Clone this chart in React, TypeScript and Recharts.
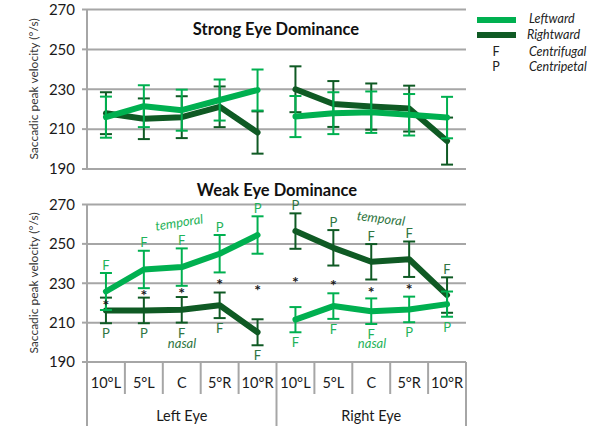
import React from 'react';
import { ComposedChart, Line, XAxis, YAxis, CartesianGrid, ErrorBar, ReferenceDot } from 'recharts';

const categories = ['10°L', '5°L', 'C', '5°R', '10°R'];
const eyes = ['Left Eye', 'Right Eye'];
const yTicks = [190, 210, 230, 250, 270];

// Strong eye dominance (LE = left eye, RE = right eye)
const strongLeftwardLE = [216, 221.5, 219.5, 224.6, 229.6];
const strongLeftwardLEErr = [10.3, 10.5, 10.3, 10.3, 10.3];
const strongRightwardLE = [218, 215.2, 216, 221.2, 208.3];
const strongRightwardLEErr = [10.5, 10.2, 10.5, 10.2, 10.6];
const strongLeftwardRE = [216.3, 218, 218.5, 217.2, 215.8];
const strongLeftwardREErr = [10.3, 10.5, 10.4, 10.4, 10.4];
const strongRightwardRE = [230, 222.6, 221.3, 220.3, 204];
const strongRightwardREErr = [11.5, 11.5, 11.6, 11.5, 11.8];

// Weak eye dominance
const weakLeftwardLE = [225.8, 237, 238.2, 245, 254.5];
const weakLeftwardLEErr = [9.4, 9.5, 9.5, 9.5, 9.5];
const weakRightwardLE = [216.2, 216.2, 216.5, 218.8, 205.1];
const weakRightwardLEErr = [6.5, 6.5, 6.5, 6.5, 6.6];
const weakLeftwardRE = [211.5, 218.4, 215.8, 216.7, 219.4];
const weakLeftwardREErr = [6.4, 6.5, 6.5, 6.5, 6.4];
const weakRightwardRE = [256.5, 248, 240.9, 242.2, 224];
const weakRightwardREErr = [9, 9, 9, 9, 9];

// F = centrifugal, P = centripetal
const weakLettersLeftwardLE = ['F', 'F', 'F', 'P', 'P'];
const weakLettersRightwardLE = ['P', 'P', 'F', 'F', 'F'];
const weakLettersRightwardRE = ['P', 'P', 'F', 'F', 'F'];
const weakLettersLeftwardRE = ['F', 'F', 'F', 'P', 'P'];

// asterisk heights (significance marks)
const weakStarsLE = [220, 225, 226, 230.7, 227.6];
const weakStarsRE = [231.7, 230.2, 226.6, 228.1, null];

const LIGHT = '#00b050';
const DARK = '#0f5a24';
const LIGHT_TXT = '#1fb35a';
const DARK_TXT = '#2f7542';
const GRID = '#a6a6a6';
const FONT = 'Lato, "Open Sans", sans-serif';

const W = 600;
const LEFT = 87;
const RIGHT = 134;
const PLOT_W = W - LEFT - RIGHT;

const keyOf = (e: number, i: number) => `${eyes[e]}|${categories[i]}`;

function buildRows(
  lwLE: number[], lwLEErr: number[], rwLE: number[], rwLEErr: number[],
  lwRE: number[], lwREErr: number[], rwRE: number[], rwREErr: number[]
) {
  const rows: any[] = [];
  eyes.forEach((_, e) => {
    categories.forEach((_, i) => {
      const le = e === 0;
      rows.push({
        key: keyOf(e, i),
        lw0: le ? lwLE[i] : null,
        lw0e: le ? lwLEErr[i] : null,
        rw0: le ? rwLE[i] : null,
        rw0e: le ? rwLEErr[i] : null,
        lw1: le ? null : lwRE[i],
        lw1e: le ? null : lwREErr[i],
        rw1: le ? null : rwRE[i],
        rw1e: le ? null : rwREErr[i],
      });
    });
  });
  return rows;
}

const strongRows = buildRows(
  strongLeftwardLE, strongLeftwardLEErr, strongRightwardLE, strongRightwardLEErr,
  strongLeftwardRE, strongLeftwardREErr, strongRightwardRE, strongRightwardREErr
);
const weakRows = buildRows(
  weakLeftwardLE, weakLeftwardLEErr, weakRightwardLE, weakRightwardLEErr,
  weakLeftwardRE, weakLeftwardREErr, weakRightwardRE, weakRightwardREErr
);

const CatTick = (props: any) => {
  const { x, y, payload } = props;
  const idx = weakRows.findIndex((r) => r.key === payload.value);
  const [eye, cat] = String(payload.value).split('|');
  const bw = PLOT_W / weakRows.length;
  const edge = idx % categories.length === 0;
  return (
    <g>
      <line x1={x - bw / 2} x2={x - bw / 2} y1={y} y2={edge ? y + 64 : y + 32} stroke={GRID} strokeWidth={2} />
      {idx === weakRows.length - 1 && (
        <line x1={x + bw / 2} x2={x + bw / 2} y1={y} y2={y + 64} stroke={GRID} strokeWidth={2} />
      )}
      <text x={x} y={y + 20} textAnchor="middle" dominantBaseline="central" fontSize={14.5} fontFamily={FONT} fill="#1a1a1a">
        {cat}
      </text>
      {idx % categories.length === 2 && (
        <text x={x} y={y + 53} textAnchor="middle" dominantBaseline="central" fontSize={14.5} fontFamily={FONT} fill="#1a1a1a">
          {eye}
        </text>
      )}
    </g>
  );
};

const yAxisProps = {
  width: LEFT,
  type: 'number' as const,
  domain: [190, 270],
  ticks: yTicks,
  interval: 0 as const,
  tickSize: 5,
  tickMargin: 7,
  axisLine: { stroke: GRID, strokeWidth: 2 },
  tickLine: { stroke: GRID, strokeWidth: 2 },
  tick: { fontSize: 15, fontFamily: FONT, fill: '#1a1a1a' },
};

const seriesLines = () =>
  [0, 1].flatMap((e) => [
    <Line key={`rw${e}`} dataKey={`rw${e}`} stroke={DARK} strokeWidth={6} strokeLinecap="round" strokeLinejoin="round"
      dot={false} connectNulls={false} isAnimationActive={false}>
      <ErrorBar dataKey={`rw${e}e`} width={6} stroke={DARK} strokeWidth={2} direction="y" />
    </Line>,
    <Line key={`lw${e}`} dataKey={`lw${e}`} stroke={LIGHT} strokeWidth={6} strokeLinecap="round" strokeLinejoin="round"
      dot={false} connectNulls={false} isAnimationActive={false}>
      <ErrorBar dataKey={`lw${e}e`} width={6} stroke={LIGHT} strokeWidth={2} direction="y" />
    </Line>,
  ]);

const letterDots = (
  e: number, vals: number[], errs: number[], letters: string[], above: boolean, color: string
) =>
  letters.map((l, i) => (
    <ReferenceDot
      key={`lt${e}${above ? 'a' : 'b'}${i}`}
      x={keyOf(e, i)}
      y={above ? vals[i] + errs[i] : vals[i] - errs[i]}
      r={0}
      ifOverflow="visible"
      shape={(p: any) => (
        <text x={p.cx} y={above ? p.cy - 8.5 : p.cy + 10} textAnchor="middle" dominantBaseline="central"
          fontSize={13} fontFamily={FONT} fill={color}>
          {l}
        </text>
      )}
    />
  ));

const starDots = (e: number, vals: (number | null)[]) =>
  vals.map((v, i) =>
    v == null ? null : (
      <ReferenceDot
        key={`st${e}${i}`}
        x={keyOf(e, i)}
        y={v}
        r={0}
        ifOverflow="visible"
        shape={(p: any) => (
          <text x={p.cx} y={p.cy + 8} textAnchor="middle" fontSize={16} fontWeight={700} fontFamily={FONT} fill="#1a1a1a">*</text>
        )}
      />
    )
  );

export default function App() {
  return (
    <div style={{ position: 'absolute', left: 0, top: 0, width: 600, height: 426, background: '#fff', overflow: 'hidden' }}>
      <div style={{ position: 'absolute', left: 0, top: 0 }}>
        <ComposedChart width={W} height={180} data={strongRows} margin={{ top: 9.5, right: RIGHT, bottom: 11, left: 0 }}>
          <CartesianGrid vertical={false} stroke={GRID} strokeWidth={2} />
          <XAxis dataKey="key" scale="band" hide />
          <YAxis {...yAxisProps} />
          {seriesLines()}
        </ComposedChart>
      </div>
      <div style={{ position: 'absolute', left: 0, top: 0 }}>
        <ComposedChart width={W} height={426} data={weakRows} margin={{ top: 204.5, right: RIGHT, bottom: 0, left: 0 }}>
          <CartesianGrid vertical={false} stroke={GRID} strokeWidth={2} />
          <XAxis dataKey="key" scale="band" height={64} interval={0} tickLine={false} tickSize={0} tickMargin={0}
            axisLine={{ stroke: GRID, strokeWidth: 2 }} tick={<CatTick />} />
          <YAxis {...yAxisProps} />
          {seriesLines()}
          {letterDots(0, weakLeftwardLE, weakLeftwardLEErr, weakLettersLeftwardLE, true, LIGHT_TXT)}
          {letterDots(0, weakRightwardLE, weakRightwardLEErr, weakLettersRightwardLE, false, DARK_TXT)}
          {letterDots(1, weakRightwardRE, weakRightwardREErr, weakLettersRightwardRE, true, DARK_TXT)}
          {letterDots(1, weakLeftwardRE, weakLeftwardREErr, weakLettersLeftwardRE, false, LIGHT_TXT)}
          {starDots(0, weakStarsLE)}
          {starDots(1, weakStarsRE)}
        </ComposedChart>
      </div>
      <svg width={600} height={426} style={{ position: 'absolute', left: 0, top: 0, pointerEvents: 'none' }} fontFamily={FONT}>
        <text x={276} y={29} textAnchor="middle" dominantBaseline="central" fontSize={16.5} fontWeight={700} fill="#111">
          Strong Eye Dominance
        </text>
        <text x={277} y={190} textAnchor="middle" dominantBaseline="central" fontSize={16.5} fontWeight={700} fill="#111">
          Weak Eye Dominance
        </text>
        <text transform="translate(33,89) rotate(-90)" textAnchor="middle" dominantBaseline="central" fontSize={12} fill="#333">
          Saccadic peak velocity (°/s)
        </text>
        <text transform="translate(33,283) rotate(-90)" textAnchor="middle" dominantBaseline="central" fontSize={12} fill="#333">
          Saccadic peak velocity (°/s)
        </text>
        <text transform="translate(179,222) rotate(-9)" textAnchor="middle" dominantBaseline="central" fontSize={13} fontStyle="italic" fill={LIGHT_TXT}>
          temporal
        </text>
        <text transform="translate(381,218) rotate(7)" textAnchor="middle" dominantBaseline="central" fontSize={13} fontStyle="italic" fill={DARK_TXT}>
          temporal
        </text>
        <text x={182} y={343} textAnchor="middle" dominantBaseline="central" fontSize={13} fontStyle="italic" fill={DARK_TXT}>
          nasal
        </text>
        <text x={372} y={343} textAnchor="middle" dominantBaseline="central" fontSize={13} fontStyle="italic" fill={LIGHT_TXT}>
          nasal
        </text>
        <rect x={477} y={17} width={39} height={6} fill={LIGHT} />
        <rect x={477} y={32} width={39} height={6} fill={DARK} />
        <text x={529} y={18.5} dominantBaseline="central" fontSize={12.5} fontStyle="italic" fill="#222">Leftward</text>
        <text x={527} y={34.5} dominantBaseline="central" fontSize={12.5} fontStyle="italic" fill="#222">Rightward</text>
        <text x={496} y={51} textAnchor="middle" dominantBaseline="central" fontSize={12.5} fill="#222">F</text>
        <text x={529} y={51} dominantBaseline="central" fontSize={12.5} fontStyle="italic" fill="#222">Centrifugal</text>
        <text x={496} y={66.5} textAnchor="middle" dominantBaseline="central" fontSize={12.5} fill="#222">P</text>
        <text x={529} y={66.5} dominantBaseline="central" fontSize={12.5} fontStyle="italic" fill="#222">Centripetal</text>
      </svg>
    </div>
  );
}
